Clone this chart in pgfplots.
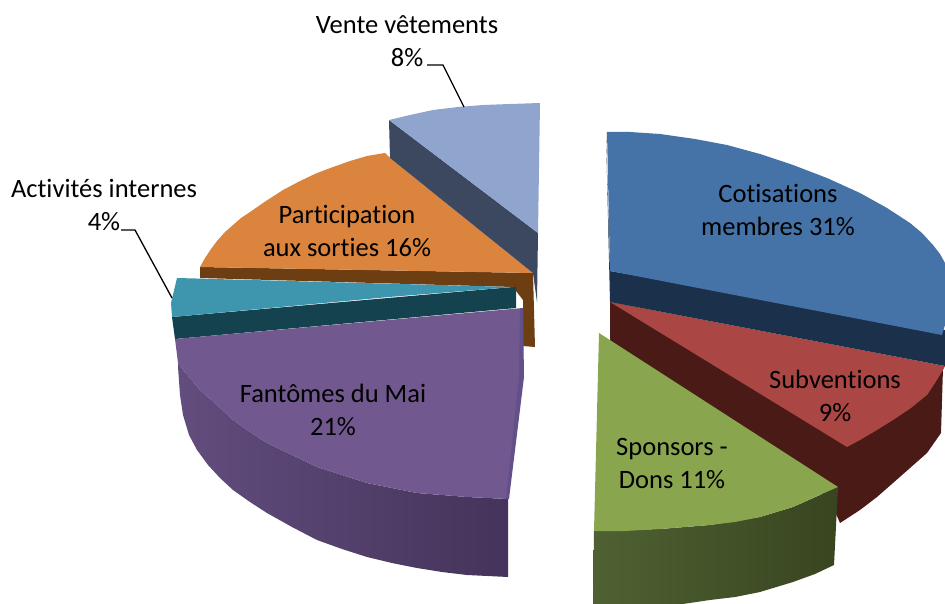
\documentclass[border=0pt]{standalone}
\usepackage{fontspec}
\setmainfont[Ligatures=NoCommon]{Carlito}
\usepackage{pgfplots}
\pgfplotsset{compat=1.18}

\definecolor{blueT}{HTML}{4573A7}
\definecolor{blueS}{HTML}{1B304A}
\definecolor{redT}{HTML}{AA4643}
\definecolor{redS}{HTML}{4A1A16}
\definecolor{greenT}{HTML}{89A54E}
\definecolor{greenL}{HTML}{4F6132}
\definecolor{greenR}{HTML}{384520}
\definecolor{skyT}{HTML}{8FA5CE}
\definecolor{skyS}{HTML}{3B4860}
\definecolor{orangeT}{HTML}{DB843D}
\definecolor{orangeS}{HTML}{6E3E13}
\definecolor{tealT}{HTML}{3D96AE}
\definecolor{tealS}{HTML}{15424F}
\definecolor{purpleT}{HTML}{71588F}
\definecolor{purpleL}{HTML}{624D7E}
\definecolor{purpleR}{HTML}{44335A}
\definecolor{purpleW}{HTML}{62508A}

\tikzset{lab/.style={align=center, font=\fontsize{26.5}{33}\selectfont, text=black, inner sep=0pt}}

\begin{document}
\begin{tikzpicture}
\useasboundingbox (0,0) rectangle (945pt,604pt);
\begin{axis}[
  scale only axis, width=945pt, height=604pt,
  xmin=0, xmax=945, ymin=0, ymax=604, y dir=reverse,
  hide axis,
  every axis plot/.append style={draw=none, forget plot},
]
% red slice
\addplot[fill=redS] coordinates {
  (610,302) (943,368) (941,433) (927,453) (910,468) (893,483) (877,497)
  (860,510) (840,523) (830,500) (610,350)};
\addplot[fill=redT] coordinates {
  (610,302) (945,366) (943,370) (935,383) (927,395) (911,408) (893,420)
  (877,430) (860,440) (847,447)};
% blue slice
\addplot[fill=blueS] coordinates {
  (606,132) (610,271) (945,330) (945,366) (610,302)};
\addplot[fill=blueT] coordinates {
  (607,132) (630,132) (660,134) (695,139) (727,145) (760,154) (793,165)
  (827,178) (860,193) (887,208) (910,223) (922,233) (933,245) (940,254)
  (945,263) (945,325) (942,335) (610,271)};
% green slice
\addplot[left color=greenL, right color=greenR] coordinates {
  (594,531) (660,529) (710,525) (760,517) (793,507) (838,487) (834,565)
  (815,574) (793,582) (760,592) (735,597) (710,600) (683,604) (593,604)};
\addplot[fill=greenT] coordinates {
  (599,333) (838,487) (815,497) (793,507) (760,517) (735,522) (710,525)
  (685,527) (660,529) (625,531) (594,531)};
% orange slice
\addplot[fill=orangeS] coordinates {
  (200,267) (533,273) (535,347) (523,346) (523,300) (513,287) (200,278)};
\addplot[fill=orangeT] coordinates {
  (533,273) (390,158) (385,153) (367,156) (350,161) (333,167) (317,173)
  (300,181) (283,190) (266,201) (250,212) (241,218) (233,225) (225,232)
  (217,241) (211,249) (205,258) (200,267)};
% light blue slice
\addplot[fill=skyS] coordinates {
  (389,120) (390,158) (533,273) (537,302) (538,233)};
\addplot[fill=skyT] coordinates {
  (389,120) (410,115) (433,110) (458,107) (483,105) (510,104) (540,103)
  (538,233)};
% teal slice
\addplot[fill=tealS] coordinates {
  (172,317) (513,287) (516,287) (516,308) (175,339)};
\addplot[fill=tealT] coordinates {
  (177,278) (513,287) (389,297) (172,317) (171,303)};
% purple slice
\addplot[left color=purpleL, right color=purpleR] coordinates {
  (178,363) (178,367) (180,395) (183,415) (189,435) (197,450) (208,465)
  (220,478) (233,490) (250,502) (267,513) (292,527) (317,540) (342,549)
  (367,557) (392,563) (417,568) (442,572) (467,575) (508,577) (508,499)
  (467,497) (442,495) (417,493) (392,488) (367,483) (342,475) (317,467)
  (292,455) (267,443) (250,432) (233,420) (217,405) (200,390) (189,377)};
\addplot[fill=purpleT] coordinates {
  (175,339) (523,308) (523,377) (508,499) (467,497) (442,495) (417,493)
  (392,488) (367,483) (342,475) (317,467) (292,455) (267,443) (250,432)
  (233,420) (217,405) (200,390) (189,377) (178,363)};
\addplot[fill=purpleW] coordinates {
  (523,308) (524,377) (509,499) (506,499) (519,377) (520,308)};
% leaders
\addplot[draw=black, line width=1.3pt] coordinates {(427,65) (443,65) (464,107)};
\addplot[draw=black, line width=1.3pt] coordinates {(121,230) (135,230) (172,298)};
% labels
\node[lab] at (axis cs:407,41) {Vente vêtements\\8\%};
\node[lab] at (axis cs:104,205) {Activités internes\\4\%};
\node[lab] at (axis cs:778,210) {Cotisations\\membres 31\%};
\node[lab] at (axis cs:835,396) {Subventions\\9\%};
\node[lab] at (axis cs:672,464) {Sponsors -\\Dons 11\%};
\node[lab] at (axis cs:347,231) {Participation\\aux sorties 16\%};
\node[lab] at (axis cs:333,410) {Fantômes du Mai\\21\%};
\end{axis}
\end{tikzpicture}
\end{document}
